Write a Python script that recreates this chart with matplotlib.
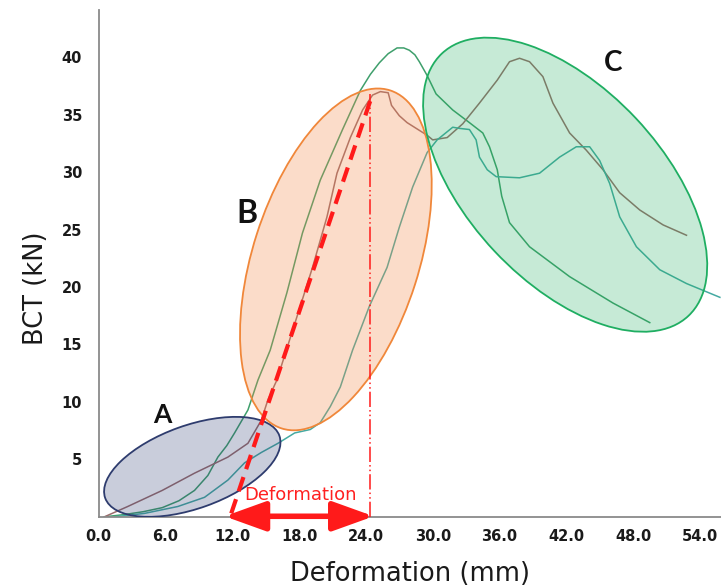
import matplotlib
matplotlib.use("Agg")
import matplotlib.pyplot as plt
from matplotlib.patches import Ellipse
from matplotlib import transforms

# load-deformation curves of three boxes (mm, kN)
green_x = [0.5, 2.3, 4.0, 5.7, 7.2, 8.6, 9.8, 10.7, 11.5, 12.2, 13.4, 14.3, 15.4,
           16.9, 18.3, 19.9, 21.9, 23.5, 24.4, 25.2, 26.0, 26.8, 27.4, 27.9, 28.4,
           28.8, 29.5, 30.3, 31.8, 33.3, 34.5, 35.1, 35.8, 36.2, 36.9, 38.7, 42.3,
           46.2, 49.5]
green_y = [0.0, 0.2, 0.45, 0.8, 1.4, 2.3, 3.6, 5.2, 6.2, 7.3, 9.3, 11.9, 14.5,
           19.5, 24.7, 29.3, 33.7, 37.1, 38.5, 39.5, 40.3, 40.8, 40.8, 40.6, 40.2,
           39.6, 38.4, 36.8, 35.4, 34.3, 33.4, 32.2, 30.2, 27.9, 25.6, 23.5, 20.9,
           18.6, 16.9]

brown_x = [0.5, 2.6, 5.7, 8.6, 11.6, 13.4, 14.6, 15.2, 16.0, 17.8, 19.2, 20.5,
           21.4, 22.6, 23.7, 24.6, 25.3, 26.0, 26.3, 27.0, 27.7, 29.5, 30.0, 31.3,
           32.7, 34.2, 35.8, 36.9, 37.8, 38.7, 39.9, 40.8, 42.3, 43.8, 45.3, 46.8,
           48.6, 50.7, 52.8]
brown_y = [0.0, 0.9, 2.3, 3.8, 5.2, 6.4, 8.4, 10.2, 11.9, 17.4, 21.7, 26.1,
           29.9, 33.0, 35.4, 36.7, 37.0, 36.9, 35.8, 34.9, 34.3, 33.2, 32.8, 33.0,
           34.2, 36.0, 38.0, 39.6, 39.9, 39.6, 38.3, 36.0, 33.4, 31.9, 30.2, 28.2,
           26.7, 25.4, 24.5]

teal_x = [1.4, 4.1, 7.1, 9.5, 11.6, 13.1, 14.6, 16.1, 17.6, 19.0, 19.9, 20.8,
          21.7, 22.8, 24.3, 25.9, 27.0, 28.2, 29.5, 30.4, 31.8, 32.4, 33.3, 33.9,
          34.2, 34.9, 35.7, 37.8, 39.6, 41.4, 42.9, 44.1, 45.0, 45.9, 46.8, 48.3,
          50.4, 52.8, 55.8]
teal_y = [0.0, 0.3, 0.9, 1.7, 3.2, 4.7, 5.6, 6.4, 7.3, 7.6, 8.2, 9.6,
          11.3, 14.5, 18.3, 21.7, 25.2, 28.7, 31.7, 32.8, 33.9, 33.8, 33.7, 32.8,
          31.3, 30.2, 29.6, 29.5, 29.9, 31.3, 32.2, 32.2, 31.0, 29.0, 26.1, 23.5,
          21.5, 20.3, 19.1]

x_ticks = [0, 6, 12, 18, 24, 30, 36, 42, 48, 54]
y_ticks = [5, 10, 15, 20, 25, 30, 35, 40]

# stiffness secant and peak deformation
secant_x = [11.9, 24.6]
secant_y = [0.3, 36.8]
peak_defo = 24.4
peak_load = 36.8
defo_start = 11.3

# zones: label, centre (data), width/height (inch), angle, edge, face
zones = [
    ("A", (8.4, 4.35), 1.85, 0.83, 19.7, "#2e3c6e", (0.17, 0.23, 0.45, 0.25)),
    ("B", (21.3, 22.4), 3.55, 1.66, 72.2, "#f0873a", (0.96, 0.55, 0.30, 0.30)),
    ("C", (41.9, 28.9), 3.60, 1.94, -46.8, "#1fae62", (0.12, 0.68, 0.36, 0.25)),
]
zone_labels = {"A": (5.7, 8.9, 19), "B": (13.3, 26.4, 23), "C": (46.2, 39.5, 20)}

fig = plt.figure(figsize=(7.21, 5.88), dpi=100)
ax = fig.add_axes([0.137, 0.121, 0.863, 0.862])

line_kw = dict(lw=1.1, zorder=2, solid_joinstyle="round")
ax.plot(green_x, green_y, color="#3f9f6c", **line_kw)
ax.plot(brown_x, brown_y, color="#9a6c6c", **line_kw)
ax.plot(teal_x, teal_y, color="#45aaa2", **line_kw)

for name, (cx, cy), w, h, ang, ec, fc in zones:
    tr = fig.dpi_scale_trans + transforms.ScaledTranslation(cx, cy, ax.transData)
    ax.add_patch(Ellipse((0, 0), w, h, angle=ang, transform=tr,
                         facecolor=fc, edgecolor=ec, lw=1.3, zorder=3))
    lx, ly, fs = zone_labels[name]
    ax.text(lx, ly, name, fontsize=fs, family="Lato", fontweight="bold",
            color="#111111", ha="center", va="center", zorder=6)

ax.plot(secant_x, secant_y, color="#ff1a1a", lw=3.0,
        linestyle=(0, (3.6, 2.0)), zorder=5)
ax.plot([peak_defo, peak_defo], [0, peak_load], color="#ff1a1a", lw=1.1,
        linestyle=(0, (10, 2, 1, 2, 1, 2)), zorder=5)
ax.annotate("", xy=(defo_start, 0.05), xytext=(peak_defo + 0.3, 0.05),
            arrowprops=dict(arrowstyle="<|-|>,head_length=1.25,head_width=0.45",
                            color="#ff1a1a", lw=4, mutation_scale=20,
                            shrinkA=0, shrinkB=0), zorder=6)
ax.text((defo_start + peak_defo) / 2 + 0.3, 1.9, "Deformation", color="#ff2020",
        fontsize=13, ha="center", va="center", zorder=6)

ax.set_xlim(0, 55.9)
ax.set_ylim(0, 44.1)
ax.set_xticks(x_ticks)
ax.set_xticklabels([f"{v:.1f}" for v in x_ticks])
ax.set_yticks(y_ticks)
ax.tick_params(length=0, labelsize=10.5, labelcolor="#1a1a1a")
ax.tick_params(axis="x", pad=9)
ax.tick_params(axis="y", pad=12)
for lab in ax.get_xticklabels() + ax.get_yticklabels():
    lab.set_fontweight("bold")

for s in ("top", "right"):
    ax.spines[s].set_visible(False)
for s in ("left", "bottom"):
    ax.spines[s].set_color("#8a8a8a")
    ax.spines[s].set_linewidth(1.3)

ax.set_xlabel("Deformation (mm)", fontsize=18.5, color="#1a1a1a")
ax.set_ylabel("BCT (kN)", fontsize=18.5, color="#1a1a1a")
ax.xaxis.set_label_coords(0.5, -0.088)
ax.yaxis.set_label_coords(-0.080, 0.452)

fig.savefig("out.png", dpi=100)
